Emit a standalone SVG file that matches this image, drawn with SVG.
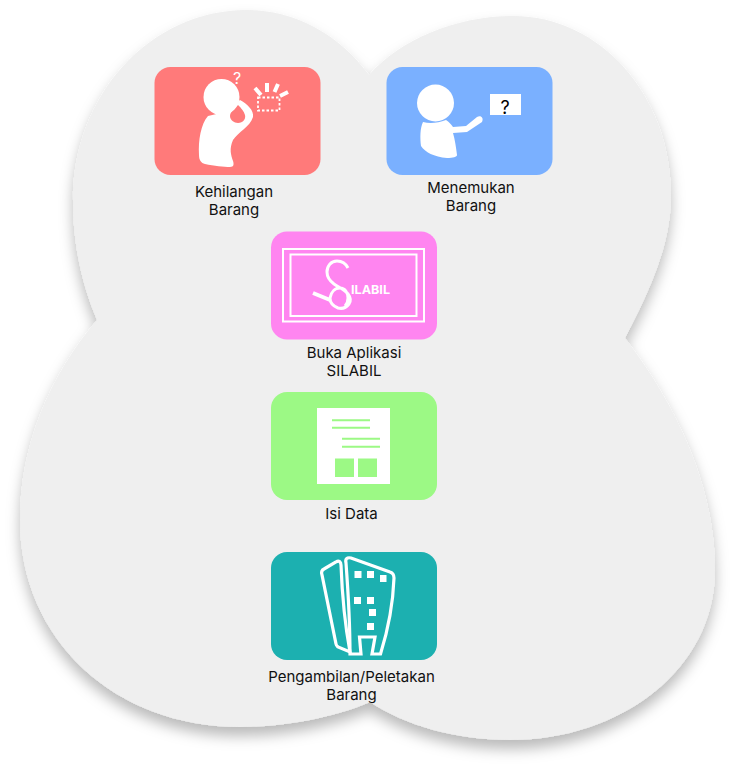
<svg xmlns="http://www.w3.org/2000/svg" width="734" height="770" viewBox="0 0 734 770">
<defs>
<filter id="sh" x="-10%" y="-10%" width="120%" height="120%"><feDropShadow dx="0" dy="9" stdDeviation="7" flood-color="#000" flood-opacity="0.27"/></filter>
</defs>
<style>
.c{fill:#efefef}
.t{font-family:Inter,"Liberation Sans",sans-serif;font-size:15px;fill:#111;text-anchor:middle}
.w{fill:#fff}
.ws{fill:none;stroke:#fff}
</style>
<rect width="734" height="770" fill="#fff"/>
<g id="background">
<path class="c" filter="url(#sh)" d="M97 320C80 280 73 240 73 200C73 95 150 10 247 10C295 10 340 35 369 75C400 40 455 16 513 16C600 16 671 95 671 195C671 245 650 290 625 338C680 410 715 490 715 570C715 670 620 740 510 740C455 740 405 725 370 702C335 717 285 727 240 727C115 727 20 640 20 520C20 445 50 375 97 320Z"/>
</g>
<g id="kehilangan">
<rect x="154.500" y="67" width="166" height="108" rx="16" fill="#ff7a7a"/>
<path class="w" d="M208 116C201 124 198 140 199 155C199 160 201 163 205 164C214 166 224 167 230 167C234 167 234 164 233 161C231 155 229 149 233 140C238 132 250 127 253 117C254 110 247 104 240 100L225 112Z"/>
<path d="M238 105C233 109 230 113 230 116C230 120 234 123 238 123C243 123 246 119 245 115C244 111 241 108 238 105Z" fill="#ff7a7a"/>
<circle class="w" cx="221.500" cy="97" r="18"/>
<text x="237" y="84" font-family="Inter,'Liberation Sans',sans-serif" font-size="16" fill="#fff" text-anchor="middle">?</text>
<rect x="258" y="97.500" width="21.500" height="13" fill="none" stroke="#fff" stroke-width="1.800" stroke-dasharray="2.500 2"/>
<path d="M255 88l6 7M267 83v9M278 84l-3.500 8M288 92l-8 4" fill="none" stroke="#fff" stroke-width="4"/>
<text class="t"><tspan x="234" y="197">Kehilangan</tspan><tspan x="234" y="215">Barang</tspan></text>
</g>
<g id="menemukan">
<rect x="386.500" y="67" width="166" height="108" rx="16" fill="#7ab0ff"/>
<circle class="w" cx="435.500" cy="103" r="18.500"/>
<path class="w" d="M423 122C420 128 420 138 421 146C425 152 434 157 447 158C453 158 457 157 457 155C456 147 455 140 453 133L467 132C472 129 477 125 482 122C484 118 481 115 477 117L466 126L453 127C451 124 449 122 446 120C438 123 430 124 423 122Z"/>
<rect class="w" x="490" y="94" width="31" height="21"/>
<text x="505" y="114.300" font-family="Inter,'Liberation Sans',sans-serif" font-size="18" fill="#000" text-anchor="middle">?</text>
<text class="t"><tspan x="471" y="193">Menemukan</tspan><tspan x="471" y="211">Barang</tspan></text>
</g>
<g id="silabil">
<rect x="271" y="231.500" width="166" height="108" rx="16" fill="#ff85f0"/>
<rect class="ws" x="283" y="249" width="141" height="72.500" stroke-width="2"/>
<rect class="ws" x="290.500" y="254.500" width="126" height="61.500" stroke-width="2"/>
<path class="ws" stroke-width="3" d="M348 268C345 262 341 261 337 261C331 261 327 266 327 272C327 278 330 281 334 284C340 288 345 290 348 294C351 298 351 301 349 304C346 308 342 309 338 308C333 306 330 302 330 298C331 292 335 288 340 288C345 288 348 293 348 298C348 301 347 304 345 306"/>
<path class="ws" stroke-width="4" d="M313 293L330 300"/>
<text x="370.500" y="293.500" font-family="Inter,'Liberation Sans',sans-serif" font-size="12" font-weight="700" fill="#fff" text-anchor="middle" textLength="39" lengthAdjust="spacingAndGlyphs">ILABIL</text>
<text class="t"><tspan x="354" y="358">Buka Aplikasi</tspan><tspan x="354" y="376">SILABIL</tspan></text>
</g>
<g id="isi-data">
<rect x="271" y="392" width="166" height="108" rx="16" fill="#9cf985"/>
<rect class="w" x="317" y="408" width="73" height="76"/>
<path d="M332 420.300h38M332 427.800h38M342 438.800h38M342 446.800h38" stroke="#9cf985" stroke-width="2" fill="none"/>
<rect x="335" y="458.500" width="19" height="18.500" fill="#9cf985"/>
<rect x="358" y="458.500" width="19" height="18.500" fill="#9cf985"/>
<text class="t" x="351.500" y="518.500">Isi Data</text>
</g>
<g id="pengambilan">
<rect x="271" y="552" width="166" height="108" rx="16" fill="#1cb0b0"/>
<path class="ws" stroke-width="3.200" d="M322 575C321 572 322 570 324 569L336 562C339 560 341 562 341 565C342 592 345 625 350 652L338 647C337 646 336 645 336 644Z"/>
<path class="ws" stroke-width="3.200" d="M346 563C345 559 347 557 351 558L390 572C393 573 394 575 394 578C393 605 388 630 380.500 654L372 654L375 637L359.500 637L361 654L350 654C350 625 348 590 346 563Z"/>
<path class="w" d="M354.500 571h7v7h-7zM367 571h7v7h-7zM380 575h6.500v7h-6.500zM354 597h7v7h-7zM367 597h7v7h-7zM369 609h7v7h-7zM367 623h7v7h-7z"/>
<text class="t"><tspan x="351.500" y="682">Pengambilan/Peletakan</tspan><tspan x="351.500" y="700">Barang</tspan></text>
</g>
<g id="connectors"></g>
</svg>
